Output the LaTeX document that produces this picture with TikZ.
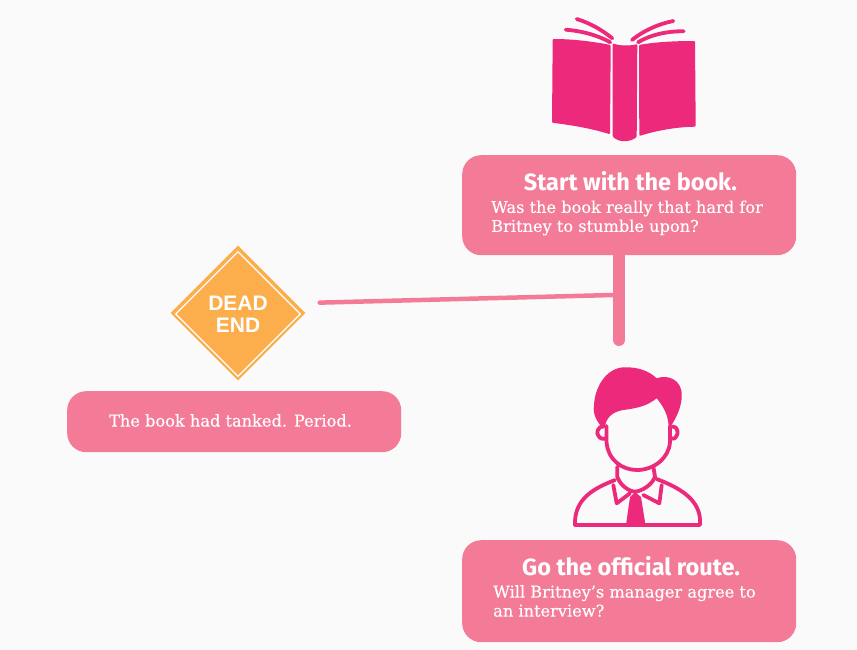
\documentclass[tikz,border=0pt]{standalone}
\usepackage{fontspec}
\setmainfont[FakeBold=0.25]{DejaVu Serif}
\newfontfamily\headfont{Fira Sans}
\newfontfamily\signfont{Liberation Sans}
\usetikzlibrary{shapes.geometric}
\definecolor{paper}{HTML}{FAFAFB}
\definecolor{boxpink}{HTML}{F37B98}
\definecolor{iconpink}{HTML}{EC297B}
\definecolor{signorange}{HTML}{FBAE4B}
\tikzset{
    box/.style={fill=boxpink, rounded corners=19pt, inner sep=0pt, anchor=north west},
    head/.style={text=white, font=\headfont\bfseries\fontsize{23.5}{25}\selectfont},
    body/.style={text=white, anchor=west, align=left, inner sep=0pt, font=\fontsize{16.2}{19}\selectfont},
    wire/.style={draw=boxpink, line cap=round},
    icon/.style={draw=iconpink, line width=3.8pt, line cap=round, line join=round},
}
\begin{document}
\begin{tikzpicture}[x=1pt, y=-1pt]
    \useasboundingbox[fill=paper] (0,0) rectangle (857,650);

    % boxes
    \node[box, minimum width=334pt, minimum height=100pt] (startbox) at (462,155) {};
    \node[box, minimum width=334pt, minimum height=61pt] (tankedbox) at (67,391) {};
    \node[box, minimum width=334pt, minimum height=102pt] (routebox) at (462,540) {};

    \node[head] (starthead) at (630.5,181) {Start with the book.};
    \node[body] (starttext) at (491,218) {Was the book really that hard for\\Britney to stumble upon?};
    \node[body, anchor=center] (tankedtext) at (230.5,420.5) {The book had tanked. Period.};
    \node[head] (routehead) at (631,566) {Go the official route.};
    \node[body] (routetext) at (493,601) {Will Britney’s manager agree to\\an interview?};

    % sign
    \node[diamond, fill=signorange, aspect=1, inner sep=0pt, minimum width=135pt, minimum height=135pt] (deadend) at (238,313) {};
    \node[diamond, draw=white, line width=1.2pt, aspect=1, inner sep=0pt, minimum width=125pt, minimum height=125pt,
        text=white, align=center, font=\signfont\bfseries\fontsize{21}{22}\selectfont] (deadtext) at (238,314) {DEAD\\END};

    % connectors
    \coordinate (trunkend) at (619,340);
    \coordinate (trunkjoin) at (613,295);
    \draw[wire, line width=12pt] (startbox.south -| trunkend) -- (trunkend);
    \draw[wire, line width=4.5pt, shorten >=14pt] (trunkjoin) -- (deadend.east |- 0,303);

    % book
    \fill[iconpink, rounded corners=1pt] (552.7,39) .. controls (575,39) and (595,42) .. (610.7,45) -- (610,134.3)
        .. controls (590,128) and (570,125) .. (552,122.7) -- cycle;
    \fill[iconpink, rounded corners=1pt] (612.7,43.3) .. controls (620,46) and (630,46) .. (637.3,44) -- (636.7,137)
        .. controls (630,142) and (620,143) .. (612.7,136.7) -- cycle;
    \fill[iconpink, rounded corners=1pt] (639,45) .. controls (655,42) and (675,41) .. (695,41) -- (695.7,126.7)
        .. controls (675,127) and (655,131) .. (639.3,136) -- cycle;
    \draw[icon] (576.7,19) .. controls (590,23) and (602,30) .. (612.3,38.3);
    \draw[icon] (565.7,29.7) .. controls (582,31) and (597,35) .. (610.3,42.3);
    \draw[icon] (673.3,21) .. controls (658,24) and (643,31) .. (632,40);
    \draw[icon] (683.7,31.3) .. controls (667,31) and (650,35) .. (638,42.3);

    % manager
    \fill[iconpink] (600.7,425.7) .. controls (594,418) and (593,410) .. (594,405)
        .. controls (595,385) and (608,367) .. (625,367.3)
        .. controls (640,367) and (650,372) .. (656.7,378.3)
        .. controls (668,374) and (682,380) .. (681.7,395)
        .. controls (682,408) and (675,420) .. (669,429)
        .. controls (668,420) and (668,412) .. (656.7,398.3)
        .. controls (648,405) and (640,408) .. (623,410)
        .. controls (612,412) and (606,418) .. (605,427) -- cycle;
    \draw[icon] (606.5,426) -- (606.5,442) .. controls (608,460) and (622,470) .. (637,470)
        .. controls (654,470) and (669,458) .. (670,442) -- (670,426);
    \draw[icon] (604,426.5) .. controls (597,426) and (596,434) .. (598.5,436)
        .. controls (600,439) and (604,439.5) .. (606.5,438);
    \draw[icon] (672.5,426.5) .. controls (678,426) and (678.5,434) .. (676.5,436)
        .. controls (675,439) and (672,439.5) .. (670,438);
    \draw[icon] (617.3,466.7) -- (617.3,476.7) .. controls (620,485) and (628,491) .. (635,491.7)
        .. controls (642,491) and (652,485) .. (655,476.7) -- (653.3,466.7);
    \draw[icon] (613.3,485) -- (616.7,503.3) -- (630,493.3);
    \draw[icon] (661.7,485) -- (659.3,503.3) -- (643.3,495);
    \draw[icon] (615,480) .. controls (595,488) and (574,498) .. (575,525) -- (700,525)
        .. controls (702,500) and (680,488) .. (656.7,479);
    \fill[iconpink] (635,492) -- (641,497) -- (645.5,525) -- (626,525) -- (630,497) -- cycle;

\end{tikzpicture}
\end{document}
